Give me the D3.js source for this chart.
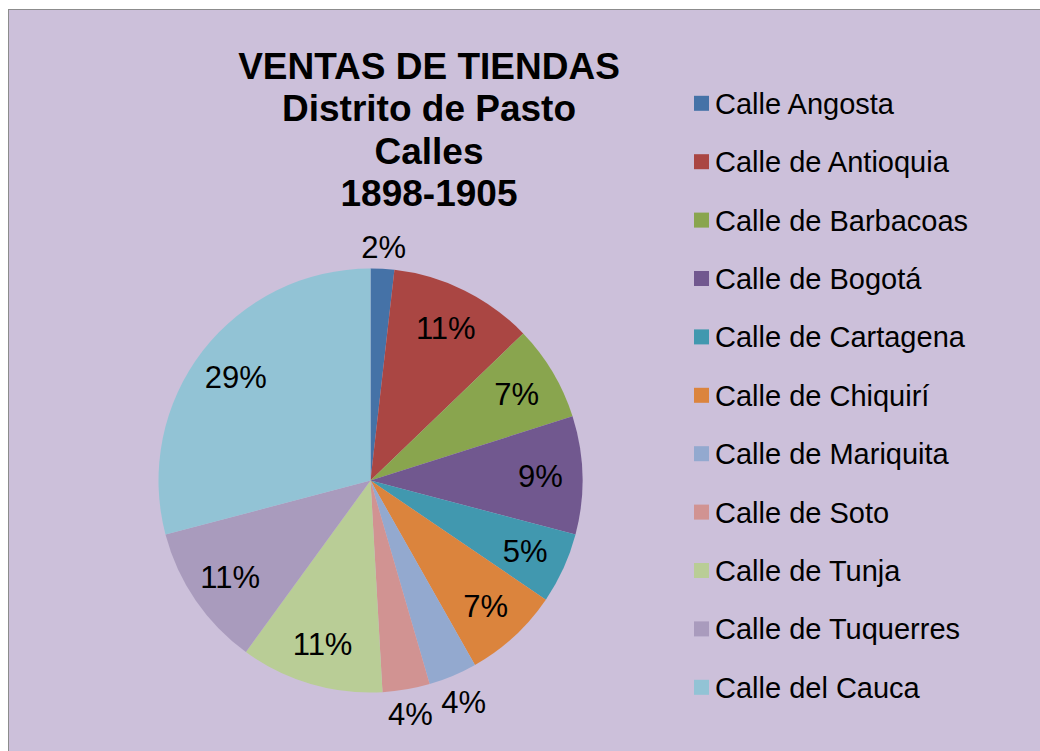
<!DOCTYPE html>
<html>
<head>
<meta charset="utf-8">
<script src="https://cdn.jsdelivr.net/npm/d3@7/dist/d3.min.js"></script>
<style>
  html, body { margin: 0; padding: 0; background: #ffffff; }
  svg { display: block; font-family: "Liberation Sans", Arial, sans-serif; }
</style>
</head>
<body>
<svg id="chart" width="1040" height="751"></svg>
<script>
// Street names (legend order = slice order, clockwise from 12 o'clock)
const streets = [
  "Calle Angosta", "Calle de Antioquia", "Calle de Barbacoas", "Calle de Bogotá",
  "Calle de Cartagena", "Calle de Chiquirí", "Calle de Mariquita", "Calle de Soto",
  "Calle de Tunja", "Calle de Tuquerres", "Calle del Cauca"
];
// Share of store sales per street (%)
const shares = [1.8, 11.0, 7.3, 9.0, 5.4, 7.3, 3.7, 3.6, 10.9, 10.9, 29.1];
const sliceColors = [
  "#4572A7", "#AA4643", "#89A54E", "#71588F", "#4198AF", "#DB843D",
  "#93A9CF", "#D19392", "#B9CD96", "#A99BBD", "#92C3D5"
];
const titleLines = ["VENTAS DE TIENDAS", "Distrito de Pasto", "Calles", "1898-1905"];

const svg = d3.select("#chart");
const W = 1040, H = 751;

// Chart area with frame
svg.append("rect")
  .attr("x", 8.5).attr("y", 9.5)
  .attr("width", W + 20).attr("height", H + 20)
  .attr("fill", "#CCC0DA")
  .attr("stroke", "#8C8C8C").attr("stroke-width", 1);

// Title
const title = svg.append("text")
  .attr("text-anchor", "middle")
  .attr("font-weight", "bold")
  .attr("font-size", 37)
  .attr("fill", "#000");
titleLines.forEach((t, i) => {
  title.append("tspan").attr("x", 429).attr("y", 79 + i * 42.4).text(t);
});

// Pie
const cx = 370.5, cy = 480.5, R = 212;
const pie = d3.pie().sort(null).value(d => d.value);
const arcs = pie(streets.map((s, i) => ({ name: s, value: shares[i], color: sliceColors[i] })));
const arcGen = d3.arc().innerRadius(0).outerRadius(R);

const g = svg.append("g").attr("transform", `translate(${cx},${cy})`);
g.selectAll("path.slice")
  .data(arcs)
  .join("path")
  .attr("class", "slice")
  .attr("d", arcGen)
  .attr("fill", d => d.data.color);

// Percentage labels: inside for larger slices, just outside the rim for small ones
const fmt = v => Math.round(v) + "%";
const labelSize = 31;
g.selectAll("text.pct")
  .data(arcs)
  .join("text")
  .attr("class", "pct")
  .attr("text-anchor", "middle")
  .attr("dy", "0.36em")
  .attr("font-size", labelSize)
  .attr("fill", "#000")
  .each(function (d) {
    let a = (d.startAngle + d.endAngle) / 2;
    const label = fmt(d.data.value);
    const hw = label.length * labelSize * 0.33;
    const hh = labelSize * 0.42;
    let r;
    if (d.data.value < 4.5) {
      const proj = Math.abs(hw * Math.sin(a)) + Math.abs(hh * Math.cos(a));
      r = R + 8 + proj;
    } else {
      r = 170;
    }
    d3.select(this)
      .attr("x", r * Math.sin(a))
      .attr("y", -r * Math.cos(a))
      .text(label);
  });

// Legend
const legend = svg.append("g").attr("transform", "translate(694,103.3)");
const rowH = 58.4;
const items = legend.selectAll("g.item")
  .data(streets)
  .join("g")
  .attr("class", "item")
  .attr("transform", (d, i) => `translate(0,${i * rowH})`);
items.append("rect")
  .attr("x", 0).attr("y", -7.5)
  .attr("width", 15).attr("height", 15)
  .attr("fill", (d, i) => sliceColors[i]);
items.append("text")
  .attr("x", 21).attr("y", 0)
  .attr("dy", "0.36em")
  .attr("font-size", 29)
  .attr("fill", "#000")
  .text(d => d);
</script>
</body>
</html>
